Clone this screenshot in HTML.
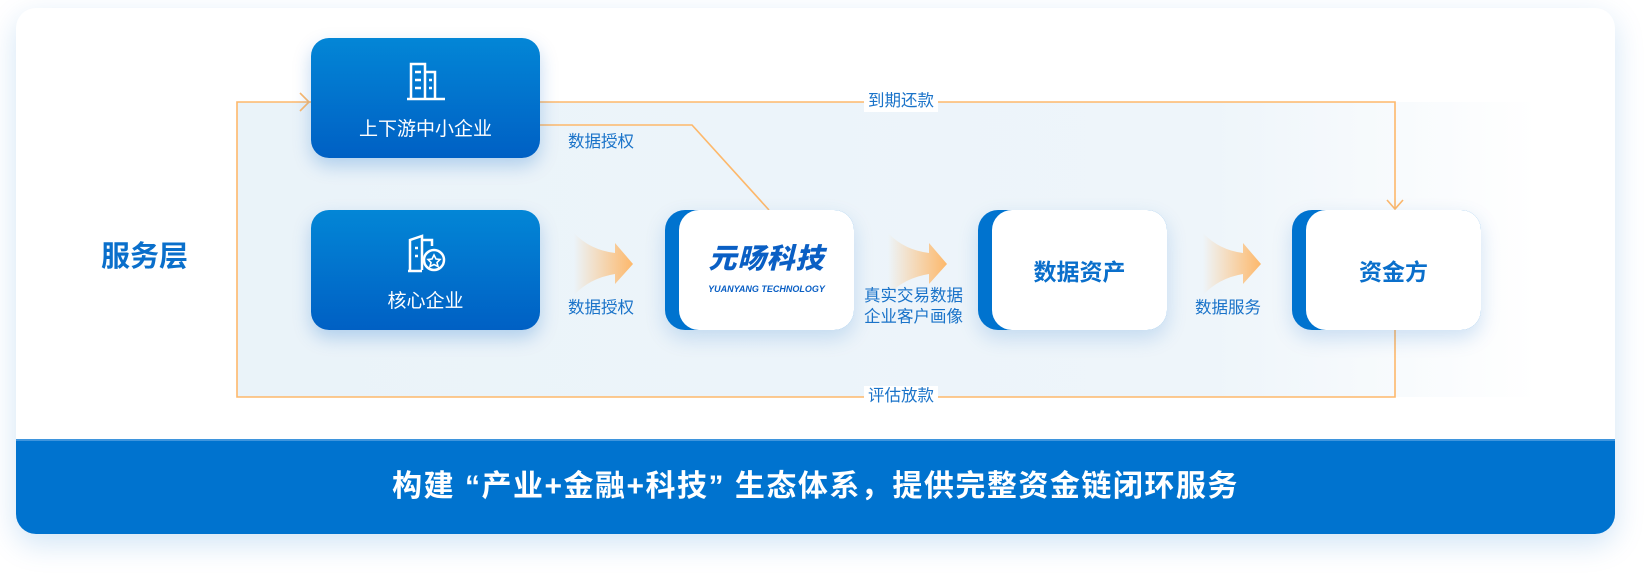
<!DOCTYPE html>
<html><head><meta charset="utf-8"><style>
*{margin:0;padding:0;box-sizing:border-box}
body{width:1652px;height:578px;background:#fff;position:relative;overflow:hidden;font-family:"Liberation Sans","Noto Sans CJK SC",sans-serif}
.abs{position:absolute}
.card{left:16px;top:8px;width:1599px;height:526px;border-radius:20px;background:#fff;box-shadow:0 10px 30px rgba(0,112,204,.18);overflow:hidden}
.band{left:0;top:431px;width:1599px;height:95px;background:#0073cf;border-top:2px solid #3f95dd;color:#fff;font-size:30px;font-weight:bold;text-align:center;line-height:92px;letter-spacing:1.5px}
.panel{left:237px;top:102px;width:1300px;height:295px;background:linear-gradient(90deg,#eaf3f9 0%,#eef5fa 75%,rgba(238,245,250,0) 100%)}
.bb{width:229px;height:120px;border-radius:18px;background:linear-gradient(180deg,#0386d6,#0060c4);color:#fff;font-size:19px;text-align:center;box-shadow:0 8px 18px rgba(0,100,200,.25)}
.bb span{position:absolute;left:0;right:0;top:76px}
.wb{height:120px;border-radius:20px;background:#0073cf;box-shadow:0 8px 20px rgba(0,100,200,.18)}
.wb div{position:absolute;left:14px;top:0;right:0;bottom:0;background:#fff;border-radius:20px;color:#0a6fcb;font-size:23px;font-weight:bold;display:flex;align-items:center;justify-content:center}
.lbl{color:#1a73c9;font-size:16.5px;line-height:21px}
</style></head><body>
<div class="abs card">
 <div class="abs band">构建 “产业+金融+科技” 生态体系，提供完整资金链闭环服务</div>
</div>
<div class="abs panel"></div>
<div class="abs" style="left:101px;top:233px;color:#0a6fcb;font-size:29px;font-weight:bold">服务层</div>
<svg class="abs" style="left:0;top:0" width="1652" height="578">
 <g fill="none" stroke="#fdb86b" stroke-width="1.6">
  <polyline points="540,102 1395,102 1395,208"/>
  <polyline points="1387,200 1395,209 1403,200"/>
  <polyline points="311,102 237,102 237,397 1395,397 1395,330"/>
  <polyline points="300,93 309,102 300,111"/>
  <polyline points="540,125 692,125 769,210"/>
 </g>
 <defs><linearGradient id="ga" x1="0" x2="1"><stop offset="0" stop-color="#fdb86b" stop-opacity="0"/><stop offset="1" stop-color="#fdb86b"/></linearGradient></defs>
 <g fill="url(#ga)">
  <path d="M574,233 Q590,250 615,253 L615,243 L633,264 L615,284 L615,274 Q590,278 574,295 Z"/>
  <path d="M888,233 Q904,250 929,253 L929,243 L947,264 L929,284 L929,274 Q904,278 888,295 Z"/>
  <path d="M1203,233 Q1219,250 1243,253 L1243,243 L1261,264 L1243,284 L1243,274 Q1219,278 1203,295 Z"/>
 </g>
</svg>
<div class="abs lbl" style="left:864px;top:91px;background:#fff;padding:0 4px">到期还款</div>
<div class="abs lbl" style="left:864px;top:386px;background:#fff;padding:0 4px">评估放款</div>
<div class="abs lbl" style="left:568px;top:132px">数据授权</div>
<div class="abs lbl" style="left:568px;top:298px">数据授权</div>
<div class="abs lbl" style="left:864px;top:286px">真实交易数据<br>企业客户画像</div>
<div class="abs lbl" style="left:1195px;top:298px">数据服务</div>
<div class="abs bb" style="left:311px;top:38px">
 <svg class="abs" style="left:94px;top:22px" width="42" height="42" fill="none" stroke="#fff" stroke-width="2.5"><path d="M6 38V4h14v34M20 12h10v26M2 39h38M10 12h6M10 20h6M10 28h6M24 20h3M24 28h3"/></svg>
 <span>上下游中小企业</span></div>
<div class="abs bb" style="left:311px;top:210px">
 <svg class="abs" style="left:95px;top:22px" width="42" height="42" fill="none" stroke="#fff" stroke-width="2.5"><path d="M4 38V8l12-4v34M16 8h10v6M2 39h14M9 16h3M9 24h3"/><circle cx="28" cy="28" r="10"/><path d="M28 23l2 4 4 .5-3 3 1 4-4-2-4 2 1-4-3-3 4-.5z" stroke-width="1.6"/></svg>
 <span>核心企业</span></div>
<div class="abs wb" style="left:665px;top:210px;width:189px"><div><div style="position:static;display:block;text-align:center;font-style:italic;color:#0a5fc4;line-height:1"><span style="font-size:28px;font-weight:900;letter-spacing:1px">元旸科技</span><br><span style="font-size:9px;font-weight:bold">YUANYANG TECHNOLOGY</span></div></div></div>
<div class="abs wb" style="left:978px;top:210px;width:189px"><div>数据资产</div></div>
<div class="abs wb" style="left:1292px;top:210px;width:189px"><div>资金方</div></div>
</body></html>
